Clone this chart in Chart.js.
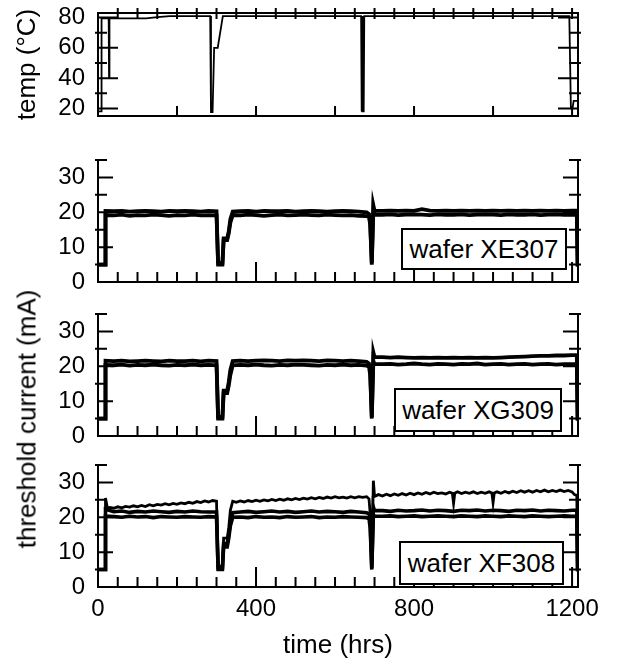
<!DOCTYPE html>
<html>
<head>
<meta charset="utf-8">
<script src="https://cdn.jsdelivr.net/npm/chart.js@4.4.0/dist/chart.umd.min.js"></script>
<style>
html,body{margin:0;padding:0;background:#fff;}
#wrap{position:relative;width:620px;height:669px;overflow:hidden;font-family:"Liberation Sans",Arial,sans-serif;color:#000;}
.pc{position:absolute;left:0;width:620px;}
.pc canvas{display:block;}
.box{position:absolute;box-sizing:border-box;border:2px solid #000;background:#fff;font-size:26px;display:flex;align-items:center;justify-content:center;white-space:nowrap;}
#ylab{position:absolute;left:27px;top:419px;transform:translate(-50%,-50%) rotate(-90deg);font-size:26px;white-space:nowrap;}
</style>
</head>
<body>
<div id="wrap">
  <div class="pc" style="top:0px;height:130px"><canvas id="c0" width="620" height="130"></canvas></div>
  <div class="pc" style="top:140px;height:150px"><canvas id="c1" width="620" height="150"></canvas></div>
  <div class="pc" style="top:295px;height:150px"><canvas id="c2" width="620" height="150"></canvas></div>
  <div class="pc" style="top:450px;height:219px"><canvas id="c3" width="620" height="219"></canvas></div>
  <div class="box" style="left:401px;top:228px;width:166px;height:42px">wafer XE307</div>
  <div class="box" style="left:394px;top:388px;width:168px;height:44px">wafer XG309</div>
  <div class="box" style="left:399px;top:541px;width:165px;height:44px">wafer XF308</div>
  <div id="ylab">threshold current (mA)</div>
</div>
<script>
// ---------------- data ----------------
const timeMax = 1215;
const timeTickLabels = [0, 400, 800, 1200];
const timeMinorTicks = [50,100,150,200,250,300,350,450,500,550,600,650,700,750,850,900,950,1000,1050,1100,1150];
const tempBottomTicks = [200,400,600,800,1000,1200];
const tempTopTicks = [50,100,150,200,250,300,350,400,450,500,550,600,650,700,750,800,850,900,950,1000,1050,1100,1150,1200];
const tempTickLabels = [20, 40, 60, 80];
const tempMinorTicks = [30, 50, 70];
const currentTickLabels = [0, 10, 20, 30];
const currentMajorTicks = [10, 20, 30];
const currentMinorTicks = [5, 15, 25, 35];

const tempHours  = [0, 8, 9, 27, 28, 29, 122, 150, 182, 284, 286, 290, 294, 303, 316, 666, 667, 668, 669, 670, 671, 672, 673, 674, 1193, 1197, 1201, 1204, 1215];
const tempValues = [18, 18, 79.5, 79.5, 40, 79.5, 79.5, 80.3, 81, 81, 17.5, 17.5, 60, 60, 81, 81, 18, 81, 18, 81, 18, 81, 18, 81, 81, 20, 20, 25, 25];

const hours = [0, 18, 19,
  40, 60, 80, 100, 120, 140, 160, 180, 200, 220, 240, 260, 280,
  300, 304, 315, 318, 327, 331, 335, 341,
  360, 380, 400, 420, 440, 460, 480, 500, 520, 540, 560, 580, 600, 620, 640, 660, 680,
  686, 689, 693, 697, 700,
  720, 740, 760, 780, 800, 820, 840, 860, 880, 900, 920, 940, 960, 980, 1000, 1020, 1040, 1060, 1080, 1100, 1120, 1140, 1160, 1180, 1200,
  1212, 1214, 1215];

const xe307Low = [5, 5, 19.2,
  19.1, 19.3, 19.0, 19.2, 19.1, 19.3, 19.2, 19.0, 19.2, 19.1, 19.3, 19.1, 19.2,
  19.1, 5, 5, 12, 12, 14, 17, 19.2,
  19.1, 19.3, 19.2, 19.0, 19.2, 19.3, 19.1, 19.2, 19.3, 19.2, 19.1, 19.3, 19.2, 19.1, 19.2, 19.0, 18.9,
  18.6, 16.5, 5, 21, 19.3,
  19.3, 19.4, 19.2, 19.3, 19.4, 19.3, 19.2, 19.4, 19.3, 19.3, 19.4, 19.2, 19.3, 19.4, 19.3, 19.2, 19.4, 19.3, 19.3, 19.4, 19.2, 19.3, 19.4, 19.3, 19.3,
  19.3, 5, 5];
const xe307High = [5, 5, 20.4,
  20.3, 20.4, 20.2, 20.3, 20.4, 20.3, 20.2, 20.4, 20.3, 20.4, 20.3, 20.2, 20.4,
  20.3, 5.5, 5.5, 12.5, 12.5, 14.5, 18, 20.2,
  20.3, 20.4, 20.2, 20.4, 20.3, 20.3, 20.4, 20.2, 20.3, 20.4, 20.3, 20.2, 20.3, 20.4, 20.3, 20.2, 20.0,
  19.5, 17, 5.5, 22, 20.4,
  20.4, 20.5, 20.4, 20.5, 20.4, 20.9, 20.5, 20.4, 20.5, 20.4, 20.5, 20.4, 20.5, 20.4, 20.5, 20.4, 20.5, 20.4, 20.5, 20.4, 20.5, 20.4, 20.5, 20.4, 20.5,
  20.5, 5, 5];

const xg309Low = [5, 5, 20.4,
  20.3, 20.5, 20.2, 20.4, 20.3, 20.5, 20.3, 20.2, 20.4, 20.3, 20.5, 20.3, 20.4,
  20.3, 5, 5, 12.3, 12.3, 14.5, 17.5, 20.3,
  20.4, 20.3, 20.5, 20.3, 20.2, 20.4, 20.3, 20.5, 20.4, 20.3, 20.2, 20.4, 20.3, 20.5, 20.3, 20.4, 20.2,
  19.8, 17.5, 5, 21.5, 20.6,
  20.6, 20.7, 20.5, 20.6, 20.8, 20.6, 20.5, 20.7, 20.6, 20.5, 20.7, 20.6, 20.8, 20.5, 20.6, 20.7, 20.5, 20.6, 20.7, 20.5, 20.6, 20.7, 20.5, 20.6, 20.6,
  20.6, 5, 5];
const xg309High = [5, 5, 21.6,
  21.5, 21.6, 21.4, 21.5, 21.6, 21.5, 21.4, 21.6, 21.5, 21.5, 21.6, 21.4, 21.6,
  21.5, 5.5, 5.5, 13, 13, 15.5, 19, 21.5,
  21.6, 21.5, 21.6, 21.7, 21.6, 21.5, 21.7, 21.6, 21.7, 21.6, 21.5, 21.7, 21.6, 21.5, 21.6, 21.5, 21.3,
  20.8, 18.5, 5.5, 24, 22.6,
  22.6, 22.5, 22.6, 22.5, 22.4, 22.5, 22.4, 22.5, 22.4, 22.5, 22.4, 22.5, 22.4, 22.5, 22.4, 22.5, 22.6, 22.7, 22.8, 22.9, 23.0, 23.0, 23.1, 23.1, 23.2,
  23.2, 5, 5];

const xf308Low = [5, 5, 20.3,
  20.2, 20.0, 20.3, 20.1, 20.2, 19.9, 20.2, 20.1, 20.0, 20.2, 20.1, 20.0, 20.2,
  20.1, 5, 5, 11.5, 11.5, 14, 17.5, 20.0,
  20.1, 19.9, 20.2, 20.0, 20.1, 19.9, 20.2, 20.0, 20.1, 20.2, 19.9, 20.1, 20.0, 20.2, 20.1, 20.0, 19.9,
  19.5, 17, 5, 20.8, 20.3,
  20.3, 20.4, 20.2, 20.3, 20.4, 20.2, 20.3, 20.4, 20.3, 20.2, 20.4, 20.3, 20.2, 20.4, 20.3, 20.2, 20.4, 20.3, 20.2, 20.4, 20.3, 20.2, 20.3, 20.4, 20.3,
  20.3, 5, 5];
const xf308Mid = [5, 5, 22.3,
  21.6, 21.8, 21.4, 21.7, 21.5, 21.8, 21.6, 21.4, 21.7, 21.5, 21.8, 21.6, 21.5,
  21.5, 5.5, 5.5, 12.5, 12.5, 15, 18.5, 21.3,
  21.5, 21.7, 21.4, 21.6, 21.8, 21.5, 21.7, 21.4, 21.6, 21.8, 21.5, 21.7, 21.6, 21.4, 21.7, 21.5, 21.3,
  21.0, 18.5, 5.5, 23, 21.9,
  21.9, 21.7, 22.0, 21.8, 21.9, 22.1, 21.8, 22.0, 21.9, 21.7, 22.0, 21.9, 22.1, 21.8, 22.0, 21.9, 21.7, 22.0, 21.9, 22.1, 21.8, 22.0, 21.9, 21.8, 22.0,
  22.0, 5, 5];

const xf308TopHours = [0, 18, 19, 24, 30,
  40, 50, 60, 70, 80, 90, 100, 110, 120, 130, 140, 150, 160, 170, 180, 190, 200, 210, 220, 230, 240, 250, 260, 270, 280, 290,
  300, 304, 315, 318, 327, 331, 335, 341,
  350, 360, 370, 380, 390, 400, 410, 420, 430, 440, 450, 460, 470, 480, 490, 500, 510, 520, 530, 540, 550, 560, 570, 580, 590, 600, 610, 620, 630, 640, 650, 660, 670, 680,
  686, 689, 693, 697, 700,
  710, 720, 730, 740, 750, 760, 770, 780, 790, 800, 810, 820, 830, 840, 850, 860, 870, 880, 890, 897, 900, 903,
  910, 920, 930, 940, 950, 960, 970, 980, 990, 997, 1000, 1003,
  1010, 1020, 1030, 1040, 1050, 1060, 1070, 1080, 1090, 1100, 1110, 1120, 1130, 1140, 1150, 1160, 1170, 1180, 1190, 1200,
  1206, 1212, 1214, 1215];
const xf308Top = [5, 5, 25.5, 22.5, 22.8,
  22.6, 23.0, 22.7, 23.1, 22.9, 23.3, 23.0, 23.4, 23.1, 23.6, 23.3, 23.7, 23.5, 23.9, 23.6, 24.0, 23.7, 24.1, 23.9, 24.3, 24.0, 24.5, 24.2, 24.7, 24.4, 24.8,
  24.6, 6, 6, 14, 14, 17, 22, 24.6,
  24.3, 24.7, 24.4, 24.8, 24.5, 24.9, 24.6, 25.0, 24.7, 25.1, 24.8, 25.2, 24.9, 25.3, 25.0, 25.4, 25.1, 25.5, 25.2, 25.6, 25.3, 25.7, 25.4, 25.8, 25.5, 25.9, 25.6, 25.8, 25.5, 25.9, 25.6, 25.9, 25.7, 25.9,
  25.3, 21, 6, 30.5, 26.0,
  26.5, 26.1, 26.6, 26.2, 26.7, 26.3, 26.8, 26.4, 26.9, 26.5, 27.0, 26.6, 27.1, 26.7, 27.2, 26.8, 27.0, 26.7, 27.2, 26.9, 24.0, 26.9,
  27.3, 26.8, 27.2, 26.9, 27.3, 26.8, 27.2, 26.9, 27.3, 27.0, 24.2, 27.0,
  27.3, 26.9, 27.4, 27.0, 27.5, 27.1, 27.6, 27.2, 27.6, 27.2, 27.7, 27.3, 27.8, 27.3, 27.7, 27.4, 27.8, 27.4, 27.7, 27.3,
  26.5, 26.3, 5, 5];

// ---------------- helpers ----------------
const FONT = '"Liberation Sans", Arial, sans-serif';

const inwardTicks = {
  id: 'inwardTicks',
  afterDatasetsDraw(chart, args, o) {
    const {ctx, chartArea: a} = chart;
    const xs = chart.scales.x, ys = chart.scales.y;
    ctx.save();
    ctx.strokeStyle = '#000';
    ctx.lineWidth = 2;
    ctx.lineCap = 'butt';
    ctx.beginPath();
    const yT = (vals, out, len) => vals.forEach(v => {
      const p = ys.getPixelForValue(v);
      ctx.moveTo(a.left - out, p); ctx.lineTo(a.left + len, p);
      ctx.moveTo(a.right + out, p); ctx.lineTo(a.right - len, p);
    });
    yT(o.yMajor, 0, o.yMajorLen);
    yT(o.yMinor, 3, 9);
    const xB = (vals, len) => vals.forEach(v => {
      const p = xs.getPixelForValue(v);
      ctx.moveTo(p, a.bottom); ctx.lineTo(p, a.bottom - len);
    });
    xB(o.xMajor, o.xMajorLen);
    xB(o.xMinor, o.xMinorLen);
    (o.xTop || []).forEach(v => {
      const p = xs.getPixelForValue(v);
      ctx.moveTo(p, a.top - 5); ctx.lineTo(p, a.top + 6);
    });
    ctx.stroke();
    ctx.restore();
  }
};

function series(xs, ys, w) {
  return {
    data: xs.map((t, i) => ({x: t, y: ys[i]})),
    borderColor: '#000', backgroundColor: '#000', borderWidth: w,
    pointRadius: 0, tension: 0, fill: false, borderJoinStyle: 'miter'
  };
}

function makePanel(id, cfg) {
  const axisBorder = {display: true, color: '#000', width: 2};
  const scales = {
    x: {
      type: 'linear', position: 'bottom', min: 0, max: timeMax,
      grid: {display: false, drawTicks: false},
      border: axisBorder,
      afterBuildTicks: s => { s.ticks = timeTickLabels.map(v => ({value: v})); },
      ticks: {display: !!cfg.showX, color: '#000', font: {family: FONT, size: 24}, padding: 8,
              maxRotation: 0, autoSkip: false, callback: v => String(v)},
      title: {display: !!cfg.showX, text: 'time (hrs)', color: '#000',
              font: {family: FONT, size: 26}, padding: {top: 0, bottom: 8}},
      afterFit: s => { s.height = cfg.xH; s.paddingLeft = 0; s.paddingRight = 0; }
    },
    y: {
      type: 'linear', position: 'left', min: cfg.yMin, max: cfg.yMax,
      grid: {display: false, drawTicks: false},
      border: axisBorder,
      afterBuildTicks: s => { s.ticks = cfg.yLabels.map(v => ({value: v})); },
      ticks: {color: '#000', font: {family: FONT, size: 24}, padding: 13, callback: v => String(v)},
      title: {display: !!cfg.yTitle, text: cfg.yTitle || '', color: '#000',
              font: {family: FONT, size: 26}, padding: {top: 12, bottom: 0}},
      afterFit: s => { s.width = 98; s.paddingTop = 0; s.paddingBottom = 0; }
    },
    y2: {
      type: 'linear', position: 'right', min: cfg.yMin, max: cfg.yMax,
      grid: {display: false, drawTicks: false},
      border: axisBorder,
      ticks: {display: false},
      afterFit: s => { s.width = 42; s.paddingTop = 0; s.paddingBottom = 0; }
    }
  };
  if (cfg.topBorder) {
    scales.x2 = {
      type: 'linear', position: 'top', min: 0, max: timeMax,
      grid: {display: false, drawTicks: false},
      border: axisBorder,
      ticks: {display: false},
      afterFit: s => { s.height = 0; s.paddingLeft = 0; s.paddingRight = 0; }
    };
  }
  return new Chart(document.getElementById(id), {
    type: 'line',
    data: {datasets: cfg.datasets},
    options: {
      responsive: false, animation: false, events: [],
      layout: {padding: {top: cfg.padTop, left: 0, right: 0, bottom: 0}},
      plugins: {legend: {display: false}, tooltip: {enabled: false}, inwardTicks: cfg.ticks},
      scales
    },
    plugins: [inwardTicks]
  });
}

const currentTicks = {
  yMajor: currentMajorTicks, yMajorLen: 15, yMinor: currentMinorTicks,
  xMajor: [400, 800, 1200], xMajorLen: 20, xMinor: timeMinorTicks, xMinorLen: 10
};

makePanel('c0', {
  padTop: 13, xH: 14, yMin: 15, yMax: 83, yLabels: tempTickLabels, yTitle: 'temp (°C)',
  topBorder: true,
  datasets: [series(tempHours, tempValues, 1.8)],
  ticks: {yMajor: tempTickLabels, yMajorLen: 20, yMinor: tempMinorTicks,
          xMajor: tempBottomTicks, xMajorLen: 10, xMinor: [], xMinorLen: 0, xTop: tempTopTicks}
});
makePanel('c1', {
  padTop: 20, xH: 8, yMin: 0, yMax: 35, yLabels: currentTickLabels,
  datasets: [series(hours, xe307Low, 3.8), series(hours, xe307High, 3.8)],
  ticks: currentTicks
});
makePanel('c2', {
  padTop: 19, xH: 9, yMin: 0, yMax: 35, yLabels: currentTickLabels,
  datasets: [series(hours, xg309Low, 3.8), series(hours, xg309High, 3.8)],
  ticks: currentTicks
});
makePanel('c3', {
  padTop: 15, xH: 82, yMin: 0, yMax: 35, yLabels: currentTickLabels, showX: true,
  datasets: [series(hours, xf308Low, 3.6), series(hours, xf308Mid, 3.6), series(xf308TopHours, xf308Top, 2.8)],
  ticks: currentTicks
});
</script>
</body>
</html>
